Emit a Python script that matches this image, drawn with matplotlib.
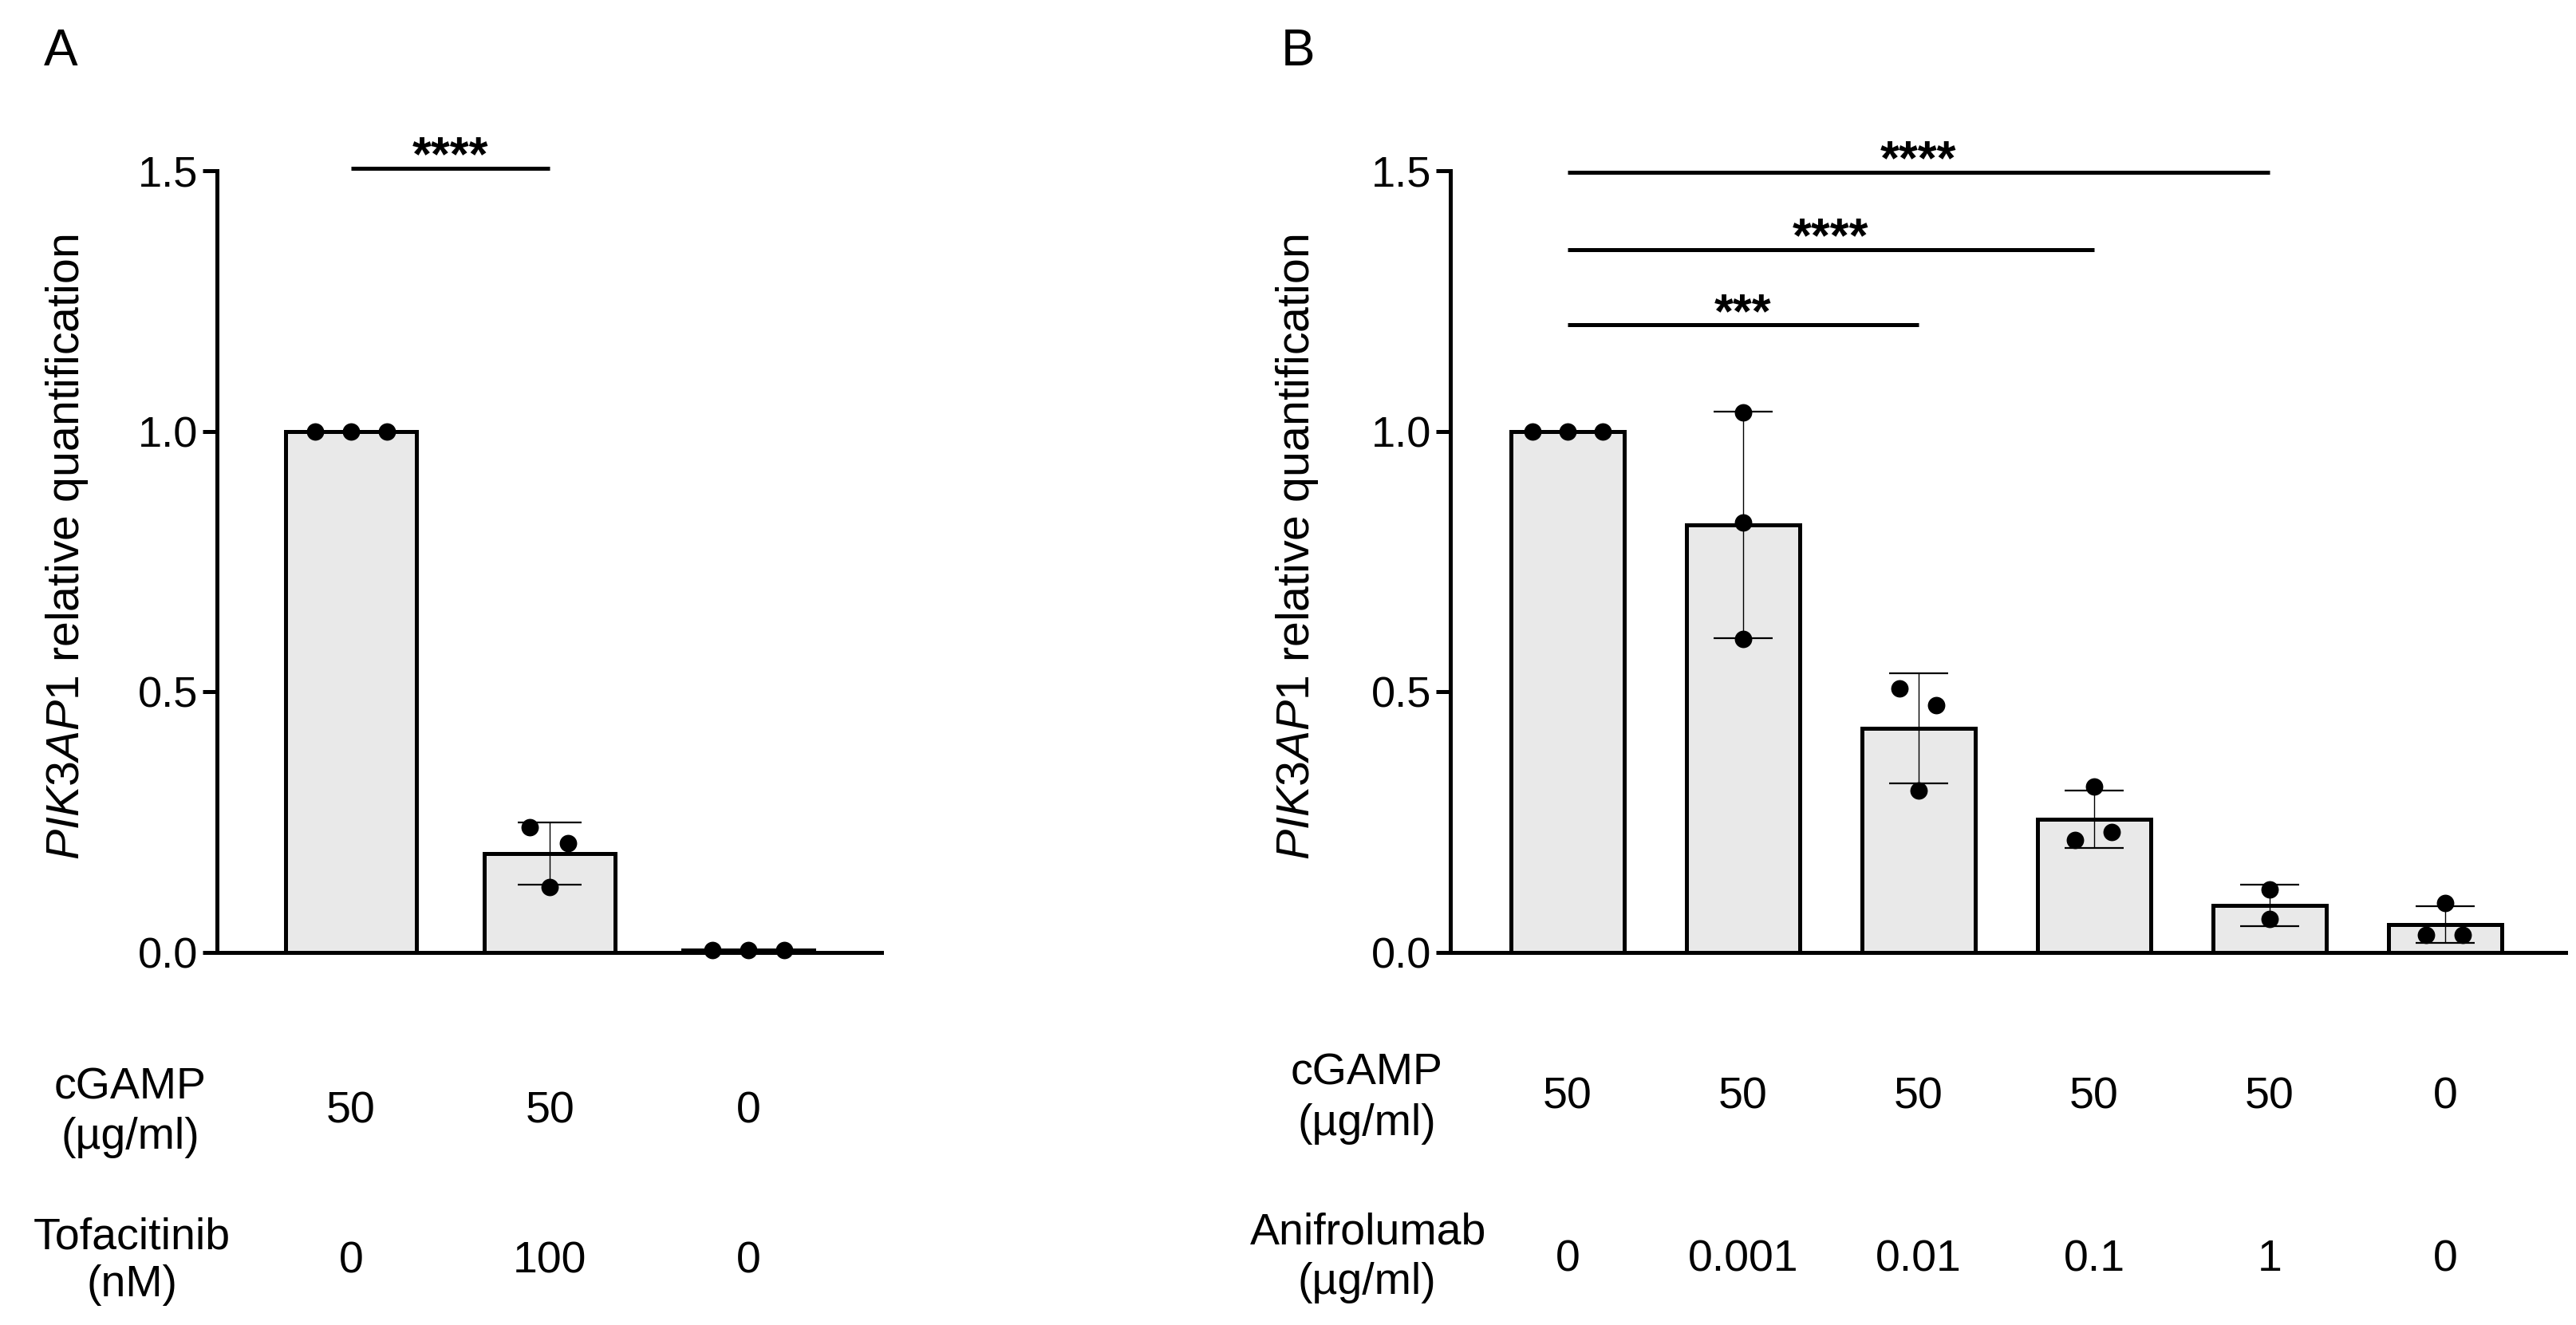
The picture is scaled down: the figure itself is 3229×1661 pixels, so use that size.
import matplotlib
matplotlib.use("Agg")
import matplotlib.pyplot as plt
import numpy as np

plt.rcParams['font.family'] = ['Liberation Sans', 'DejaVu Sans']
plt.rcParams['mathtext.fontset'] = 'custom'
plt.rcParams['mathtext.rm'] = 'Liberation Sans'
plt.rcParams['mathtext.it'] = 'Liberation Sans:italic'

# ---------------- data ----------------
# Panel A
a_means = [1.0, 0.19, 0.005]
a_sd = [0.0, 0.06, 0.0]
a_points = [[1.0, 1.0, 1.0], [0.240, 0.210, 0.125], [0.005, 0.005, 0.005]]
a_jitter = [[-0.18, 0.0, 0.18], [-0.10, 0.09, 0.0], [-0.18, 0.0, 0.18]]
a_cgamp = ["50", "50", "0"]
a_tofa = ["0", "100", "0"]

# Panel B
b_means = [1.0, 0.82, 0.43, 0.255, 0.09, 0.054]
b_sd = [0.0, 0.217, 0.105, 0.055, 0.040, 0.035]
b_points = [[1.0, 1.0, 1.0], [1.036, 0.825, 0.601], [0.507, 0.475, 0.311],
            [0.318, 0.231, 0.216], [0.121, 0.064], [0.095, 0.034, 0.034]]
b_jitter = [[-0.2, 0.0, 0.2], [0.0, 0.0, 0.0], [-0.11, 0.10, 0.0],
            [0.0, 0.10, -0.11], [0.0, 0.0], [0.0, -0.11, 0.10]]
b_cgamp = ["50", "50", "50", "50", "50", "0"]
b_anif = ["0", "0.001", "0.01", "0.1", "1", "0"]

a_sig = [(0, 1, 1.505, "****")]
b_sig = [(0, 4, 1.497, "****"), (0, 3, 1.349, "****"), (0, 2, 1.204, "***")]

ylabel = r"$\mathit{PIK3AP1}$ relative quantification"

# ---------------- figure ----------------
W, H = 3229, 1661
fig = plt.figure(figsize=(W / 200, H / 200), dpi=200)

def fx(px):
    return px / W

def fy(py):
    return 1 - py / H

LW = 1.8
BAR_FILL = "#e9e9e9"

def panel(left, right, xlim, width, means, sd, points, jitter, sig, capsize):
    ax = fig.add_axes([fx(left), fy(1194), fx(right - left), (1194 - 214) / H])
    x = np.arange(len(means))
    ax.bar(x, means, width=width, color=BAR_FILL, edgecolor="black",
           linewidth=1.8, zorder=2)
    for i in range(len(means)):
        if sd[i] > 0:
            ax.errorbar(x[i], means[i], yerr=sd[i], fmt="none", ecolor="black",
                        elinewidth=0.5, capsize=capsize, capthick=0.8, zorder=3)
        px = x[i] + np.array(jitter[i])
        ax.scatter(px, points[i], s=62, color="black", zorder=4,
                   linewidths=0, clip_on=False)
    ax.set_xlim(*xlim)
    ax.set_ylim(0, 1.5)
    ax.set_yticks([0, 0.5, 1.0, 1.5])
    ax.set_yticklabels(["0.0", "0.5", "1.0", "1.5"])
    ax.set_xticks([])
    for s in ["top", "right"]:
        ax.spines[s].set_visible(False)
    for s in ["left", "bottom"]:
        ax.spines[s].set_linewidth(LW)
    ax.tick_params(axis="y", length=6.5, width=LW, labelsize=19.5, pad=2)
    for (i, j, yv, txt) in sig:
        ax.plot([x[i], x[j]], [yv, yv], color="black", lw=LW,
                clip_on=False, solid_capstyle="butt")
        ax.text((x[i] + x[j]) / 2, yv - 0.004, txt, ha="center", va="baseline",
                fontsize=22, fontweight="bold", clip_on=False)
    return ax, x

axA, xA = panel(272, 1105, (-0.675, 2.67), 0.66, a_means, a_sd, a_points,
                a_jitter, a_sig, 14.5)
axB, xB = panel(1818, 3216, (-0.668, 5.686), 0.645, b_means, b_sd, b_points,
                b_jitter, b_sig, 13.3)

# y labels
fig.text(fx(84), fy(686), ylabel, rotation=90, ha="center", va="center",
         fontsize=20.6)
fig.text(fx(1626), fy(686), ylabel, rotation=90, ha="center", va="center",
         fontsize=20.6)

# panel letters
fig.text(fx(55), fy(82), "A", ha="left", va="baseline", fontsize=23)
fig.text(fx(1606), fy(82), "B", ha="left", va="baseline", fontsize=23)

# condition table
TS = 20

def row_vals(ax, x, vals, base_py):
    tr = matplotlib.transforms.blended_transform_factory(ax.transData, fig.transFigure)
    for xi, v in zip(x, vals):
        ax.text(xi, fy(base_py), v, transform=tr, ha="center", va="baseline",
                fontsize=TS, clip_on=False)

fig.text(fx(163), fy(1378), "cGAMP", ha="center", va="baseline", fontsize=TS)
fig.text(fx(163), fy(1440), "(µg/ml)", ha="center", va="baseline", fontsize=TS)
fig.text(fx(165), fy(1565), "Tofacitinib", ha="center", va="baseline", fontsize=TS)
fig.text(fx(165), fy(1625), "(nM)", ha="center", va="baseline", fontsize=TS)
row_vals(axA, xA, a_cgamp, 1408)
row_vals(axA, xA, a_tofa, 1595)

fig.text(fx(1713), fy(1360), "cGAMP", ha="center", va="baseline", fontsize=TS)
fig.text(fx(1713), fy(1423), "(µg/ml)", ha="center", va="baseline", fontsize=TS)
fig.text(fx(1715), fy(1560), "Anifrolumab", ha="center", va="baseline", fontsize=TS)
fig.text(fx(1713), fy(1622), "(µg/ml)", ha="center", va="baseline", fontsize=TS)
row_vals(axB, xB, b_cgamp, 1389)
row_vals(axB, xB, b_anif, 1593)

fig.savefig("out.png", dpi=200, facecolor="white")
